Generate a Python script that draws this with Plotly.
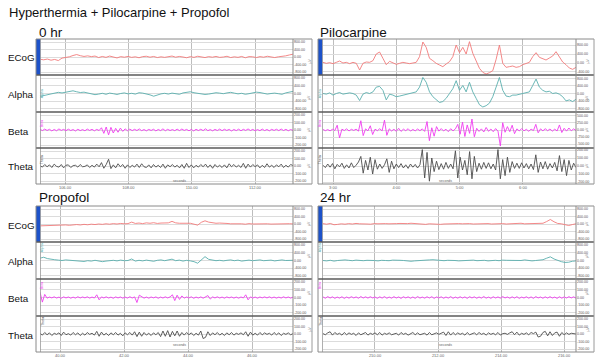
import numpy as np
import plotly.graph_objects as go

W, H = 600, 364

# ---------------- data (µV) ----------------
row_names = ["ECoG", "Alpha", "Beta", "Theta"]

hr0_ticks = [106, 108, 110, 112]
hr0_ticklabels = ["106.00", "108.00", "110.00", "112.00"]
pilo_ticks = [3, 4, 5, 6]
pilo_ticklabels = ["3:00", "4:00", "5:00", "6:00"]
prop_ticks = [40, 42, 44, 46]
prop_ticklabels = ["40.00", "42.00", "44.00", "46.00"]
h24_ticks = [210, 212, 214, 216]
h24_ticklabels = ["210.00", "212.00", "214.00", "216.00"]

hr0_ecog = [-120, -150, -110, -170, -130, -190, -60, -30, 10, 80, 130, 70, 30, 60, 20, 50, -30, 30, -20, 50,
            0, -50, 20, -10, 30, -20, 10, -40, 20, 40, -10, 30, -30, 10, -20, 20, 50, -10, 30, 0,
            -40, 20, -20, 40, 10, -30, 20, -10, 30, -20, 0, 40, -30, 10, -20, 30, -40, 20, 10, -30,
            20, -10, 40, 0, -30, 10, 30, 60, 110, 150]
hr0_alpha = [-150, -100, -60, 0, 40, 60, 30, 80, 100, 140, 90, 50, 70, 20, -20, -60, -30, 10, -40, 20,
             -10, -50, 0, 30, -20, 10, -30, 40, 20, -10, -70, -140, -60, -20, 10, -30, 20, 0, -40, 30,
             60, 90, 40, 10, -20, -50, -30, 10, 40, 20, -10, 30, 60, 20, -20, 10, -40, -10, 30, 70,
             50, 10, -30, 0, 20, -10, -40, 30, 80, 110]
hr0_beta = [10, -8, 12, -6, 9, -12, 7, -10, 14, -5, 8, -9, 11, -7, 6, -13, 10, -8, 5, -10, 12, -6, 9, -11, 8, -7,
            30, -45, 40, -65, 35, -40, 22, -30, 25, -18, 15,
            -10, 12, -8, 9, -7, 14, -9, 6, -11, 8, -6, 10, -12, 7, -8, 15, -10, 9, -7, 6,
            -9, 11, -8, 13, -6, 8, -10, 7, -12, 9, -7, 10, -8, 16, -9, 6, -11, 8, -7, 12,
            -9, 10, -6, 8, -13, 7, -8, 11, -10, 9, -6, 14, -7, 8, -10, 6, -9, 12, -8, 7,
            -11, 9, -6, 10, -8, 13, -7, 9, -10, 6, -5]
hr0_theta = [5, -15, 20, -10, 15, -20, 25, -5, -15, 20, -25, 10, 15, -20, 5, 10, -15, 20, -10, -5, 15, -20, 10, -15, 25, -10,
             45, -30, 20, 90, -35,
             15, -25, 30, -10, 20, -30, 15, -20, 10, -15, 25, -20, 30, -10, -20, 15, -25, 20, -15, 10,
             -20, 25, -30, 15, -10, 20, -15, 10, -25, 20,
             -30, 35, -20, 15, -25, 10, -15, 20, -10, 25, -20, 15, -30, 20, -15, 10, -20, 15, -25, 30,
             -10, 20, -15, 10, -20, 35, -30, 25, -15, 20, -10, 15, -25, 10, -20, 30, -15, 10, -20, 15,
             -10, 25, -20, 10, -15, 20, 5]

pilo_ecog = [30, -15, 15, -30, 30, 90, 0, 30, -30, 30, -15, -315, -15, 45, 30, 105, 405, 495, 210, -75,
             75, 15, -60, -15, 30, 0, -30, 0, 30, 285, 945, 705, 210, 105, -15, -90, -165, -45, 60, 285,
             810, 465, 705, 405, 960, 435, 105, -240, -420, -495, -435, -345, 165, 810, -15, -195, -165, -135, -195, -165,
             -75, -15, 30, 285, 465, 255, 210, 135, 225, 315, 510, 285, 45, -75, -225, -285, -195]
pilo_alpha = [0, -34, 34, -85, 0, 51, -34, 0, 34, 0, -85, -374, -34, 51, 0, 85, 340, 374, 170, -340,
              -34, -85, -170, -136, -85, -51, 0, 34, 85, 340, 850, 595, 85, -170, -340, -476, -425, -255, 0, 255,
              680, 170, 425, 85, 595, 85, -255, -595, -714, -646, -510, -170, 340, 850, 170, -136, -170, -85, -85, -34,
              0, 34, 85, 425, 765, 340, 170, 85, 119, 0, 34, -34, -170, -391, -340, -425, -306]
pilo_beta = [20, -25, 15, -30, 25, -20, 170, -280, 30, -20, 40, -35, 25, -15, 30, -40, 330, -200, 40, -30,
             150, -160, 30, -25, 45, -30, 350, -190, 40, -35, 25, -45, 60, -50, 30, -25, 45, -40, 20, -30,
             35, -25, 40, -50, 300, -380, 80, -220, 120, -40, 50, -35, 30, -60, 45, -30, 40, 200, -150, 280,
             -230, 180, -120, 390, -240, 60, -50, 40, -70, 90, -45, 35, -60, 50, -40, -570, 260, -80, 120, -60,
             170, -130, 40, -35, 50, -30, 25, -45, 30, -20, 200, -100, 40, -30, 45, -25, 35, -40, 30, -35,
             180, -90, 60, -40, 70, -30, 40, -20]
pilo_theta = [10, -20, 25, -15, 30, -35, 20, -10, 35, -30, 15, -25, 40, -20, 10,
              50, 120, -90, 70, -50, 110, -100, 80, -40, 25, -30, 15, 90, -80, 60, -35,
              25, -20, 30, -25, 15, -30, 25, -15, 20, -25, 15,
              205, -150, 170, -190, 100, -70, 60, -45, 30, -40, 45, -30, 25, -35,
              190, -150, 110, -50, 70, -110, 180, -160, 120, -70,
              35, -40, 45, -30, 40, -35, 25, -50, 205, -160, 80, -120, 110, -80, 55,
              -30, 35, -30, 40, -25, 30, -35, 25, -45, 140, -80,
              50, -35, 55, -40, 30, -25, 45, -60, 130, -70, 80, -120, 70, -50, 35, -20]

prop_ecog = [-100, -90, -110, -80, -70, -90, -60, -50, -70, -40,
             -30, -50, -20, -40, -10, -30, 0, -20, 10, -10,
             20, 0, 30, 10, 20, 100, 30, 50, 20, 60,
             40, 70, 30, 50, 40, 60, 140, 60, 40, 50,
             60, 40, -10, -60, 90, 170, 100, 50, 40, 50,
             20, 30, 10, 20, 0, 10, -10, 20, 0, 10,
             -10, 0, 10, -5, 5, 0, 10, 0, 15, 5]
prop_alpha = [120, 170, 100, 60, 40, 20, 0, 30, 10, -10,
              -30, -20, -50, -10, -30, 10, -20, -60, -30, 0,
              10, -20, 20, -10, 0, 80, -30, 10, -20, 20,
              0, -40, 10, 30, -10, 20, 70, -10, 20, -30,
              10, -20, -60, -140, 40, 200, 60, 20, -10, 10,
              -20, 10, 30, -10, 20, -30, 0, 20, -10, 10,
              30, -10, 0, 20, -20, 10, 30, 0, -10, 10]
prop_beta = [70, -60, 40,
             -8, 6, -5, 9, -7, 5, -10, 8, -6, 7, -9, 5, -8, 10, -6, 7, -5, 9, -8, 6, -7,
             35, -30,
             8, -6, 9, -7, 5, -10, 8, -6, 7, -9, 6, -8, 10, -7, 8,
             -65, 30,
             10, -8, 6, -9, 7, -5, 8, -10, 6, -7, 9, -6, 8,
             35, -40, 30, -25, 20,
             -8, 7, -6, 9, -10, 6, -7, 8, -9, 7,
             25, -20,
             8, -6, 9, -7, 6, -9, 8, -5, 7, -8, 6, -9, 7, -6,
             35, -30,
             8, -7, 6, -9, 7, -5, 8, -6, 9, -7, 6, -8, 5, -7, 9, -6, 7, -8, 5]
prop_theta = [10, -15, 20, -10, 15, -20, 10, -5, 15, -20, 25, -10, 5, -15, 20, -10, 15, -20, 10, -15, 20, -5, 10, -15,
              35, -30, 25, -15,
              10, -20, 15, -10, 20, -15, 10, -25, 15, -10, 20, -15,
              30, -35, 25, -30, 20,
              -15, 10, -20, 15, -10, 20,
              -35, 40, -30, 45, -40, 35, -25, 40, -30, 20,
              -15, 20, -10, 15, -20, 10, -15,
              40, -60, -45, 30, -20,
              15, -10, 20, -15, 10, -20, 15, -10, 20, -15, 10, -5, 15, -10,
              30, -30, 25, -15,
              10, -15, 20, -10, 15, -5, 10, -15, 20, -10, 15, -20, 10, -5, 15, -10, 5]

h24_ecog = [20, -10, 30, -40, -20, 10, -10, 20, 0, 30,
            10, 20, 0, -10, 20, 10, 30, 20, 10, 0,
            20, 30, 10, 20, 40, 20, 10, 0, -20, 10,
            -10, -30, -20, 0, 10, 30, 50, 20, 10, 30,
            20, 0, 10, 30, 10, 20, 0, 10, -10, 20,
            0, 10, 30, 20, 40, 10, 20, 0, 30, 20,
            40, 130, 240, 120, 30, 10, -40, -80, -30, 10]
h24_alpha = [0, -20, 10, -30, 0, 20, 30, 10, -10, 20,
             0, -10, 10, 20, 0, -20, 10, 0, -10, 20,
             30, 10, 0, -20, -40, -20, 0, 10, 20, 30,
             40, 20, 0, -10, 10, 20, 0, -20, -10, 10,
             0, 20, -10, 0, 10, -20, 0, 10, -10, 20,
             10, 0, 20, -10, 0, 30, 10, -20, 0, 20,
             40, 120, 190, 80, 0, -60, -100, -90, -40, -20]
h24_beta = [8, -10, 12, -7, 9, -11, 6, -8, 10, -12,
            7, -9, 11, -6, 8, -10, 13, -7, 9, -8,
            10, -6, 7, -11, 9, -8, 12, -10, 6, -9,
            11, -7, 8, -12, 10, -6, 9, -10, 7, -11,
            13, -8, 6, -9, 10, -7, 11, -12, 8, -6,
            9, -10, 7, -8, 12, -11, 6, -9, 10, -7,
            8, -12, 11, -6, 9, -10, 7, -8, 13, -9,
            6, -11, 10, -7, 8, -9, 12, -6, 7, -10,
            9, -8, 11, -12, 6, -7, 10, -9, 8, -11,
            12, -6, 7, -10, 9, -8, 11, -7, 6, -12,
            10, -9, 8, -7, 11, -6, 9, -10]
h24_theta = [5, -10, 15, 30, -15, 20, -5, 10, -15, 20,
             -10, 15, -5, 10, -20, 15, -10, 5, 20, -15,
             10, -5, 15, -10, 20, -15, 10, -5, 15, -10,
             5, 10, -15, 20, -5, 10, -15, 5, 20, -10,
             15, -10, 5, 10, -15, 20, -10, 5, 15, -5,
             10, 25, -20, 30, -15, 20, -10, 15, -5, 10,
             -15, 20, -10, 5, 15, -10, 20, -5, 10, -15,
             15, -5, 10, -10, 20, -15, 5, 10, -5, 15,
             30, -10, 25, -15, 10, -5, 15, -10, 20, 5,
             25, -40, -30, 20, 35, -25, 30, -20, 15, 25,
             -30, 20, -10, 15, -5, 10, 5, 0]

big_ticks = [800, 400, 0, -400, -800]
big_labels = ["800.00", "400.00", "0.00", "-400.00", "-800.00"]
small_ticks = [200, 100, 0, -100, -200]
small_labels = ["200.00", "100.00", "0.00", "-100.00", "-200.00"]
pilo_beta_ticks = [500, 250, 0, -250, -500]
pilo_beta_labels = ["500.00", "250.00", "0.00", "-250.00", "-500.00"]

# ---------------- layout geometry ----------------
def fx(px):
    return px / W

def fy(py):
    return 1 - py / H

colors = {"ECoG": "#f27b7b", "Alpha": "#5aafae", "Beta": "#ef3cef", "Theta": "#4d4d4d"}
FONT = "Liberation Sans, Arial, sans-serif"

panels = [
    dict(title="0 hr", tx=37, ty=32, xl=40, xr=293, strip=36, boxr=312, rows=[39, 75, 112, 148, 184],
         trange=(105.21, 113.2), tv=hr0_ticks, tt=hr0_ticklabels, label_rows=True,
         data=[hr0_ecog, hr0_alpha, hr0_beta, hr0_theta],
         yr=[(-960, 960), (-960, 960), (-240, 240), (-240, 240)],
         yt=[(big_ticks, big_labels), (big_ticks, big_labels), (small_ticks, small_labels), (small_ticks, small_labels)]),
    dict(title="Pilocarpine", tx=318, ty=32, xl=323, xr=576, strip=318, boxr=594, rows=[39, 75, 112, 148, 184],
         trange=(2.842, 6.837), tv=pilo_ticks, tt=pilo_ticklabels, label_rows=False,
         data=[pilo_ecog, pilo_alpha, pilo_beta, pilo_theta],
         yr=[(-540, 1080), (-980, 980), (-640, 640), (-225, 225)],
         yt=[(big_ticks[:4], big_labels[:4]), (big_ticks, big_labels), (pilo_beta_ticks, pilo_beta_labels), (small_ticks, small_labels)]),
    dict(title="Propofol", tx=37, ty=198, xl=40, xr=293, strip=36, boxr=312, rows=[206, 242, 279, 316, 352],
         trange=(39.375, 47.28), tv=prop_ticks, tt=prop_ticklabels, label_rows=True,
         data=[prop_ecog, prop_alpha, prop_beta, prop_theta],
         yr=[(-960, 960), (-960, 960), (-240, 240), (-240, 240)],
         yt=[(big_ticks, big_labels), (big_ticks, big_labels), (small_ticks, small_labels), (small_ticks, small_labels)]),
    dict(title="24 hr", tx=318, ty=198, xl=323, xr=576, strip=318, boxr=594, rows=[206, 242, 279, 316, 352],
         trange=(208.35, 216.38), tv=h24_ticks, tt=h24_ticklabels, label_rows=False,
         data=[h24_ecog, h24_alpha, h24_beta, h24_theta],
         yr=[(-960, 960), (-960, 960), (-240, 240), (-240, 240)],
         yt=[(big_ticks, big_labels), (big_ticks, big_labels), (small_ticks, small_labels), (small_ticks, small_labels)]),
]

fig = go.Figure()
layout = dict(width=W, height=H, margin=dict(l=0, r=0, t=0, b=0), autosize=False,
              paper_bgcolor="white", plot_bgcolor="white", showlegend=False,
              font=dict(family=FONT, color="black"))
shapes = []
annotations = [dict(text="Hyperthermia + Pilocarpine + Propofol", x=fx(7), y=fy(13), xref="paper", yref="paper",
                    xanchor="left", yanchor="middle", showarrow=False, font=dict(size=13, color="#111"))]

k = 0
for p in panels:
    annotations.append(dict(text=p["title"], x=fx(p["tx"]), y=fy(p["ty"]), xref="paper", yref="paper",
                            xanchor="left", yanchor="middle", showarrow=False, font=dict(size=13.5, color="#111")))
    rows = p["rows"]
    for r, name in enumerate(row_names):
        k += 1
        sfx = "" if k == 1 else str(k)
        top, bot = rows[r], rows[r + 1]
        vals = p["data"][r]
        t = np.linspace(p["trange"][0], p["trange"][1], len(vals))
        fig.add_trace(go.Scatter(x=t, y=vals, mode="lines", xaxis="x" + sfx, yaxis="y" + sfx,
                                 line=dict(color=colors[name], width=0.9), hoverinfo="skip"))
        is_bottom = (r == 3)
        layout["xaxis" + sfx] = dict(domain=[fx(p["xl"]), fx(p["xr"])], range=list(p["trange"]),
                                     anchor="y" + sfx, tickvals=p["tv"], ticktext=p["tt"],
                                     showticklabels=is_bottom, ticks="", showgrid=True, gridcolor="#bdbdbd",
                                     gridwidth=1, zeroline=False, showline=False,
                                     tickfont=dict(size=4, color="#666"), fixedrange=True)
        tv, tt = p["yt"][r]
        layout["yaxis" + sfx] = dict(domain=[fy(bot), fy(top)], range=list(p["yr"][r]), anchor="x" + sfx,
                                     side="right", tickvals=tv, ticktext=tt, ticks="", showgrid=True,
                                     gridcolor="#dcdcdc", gridwidth=1, zeroline=False, showline=False,
                                     tickfont=dict(size=3.6, color="#555"), fixedrange=True)
        # left strip
        if r == 0:
            shapes.append(dict(type="rect", xref="paper", yref="paper", x0=fx(p["strip"]), x1=fx(p["strip"] + 4.5),
                               y0=fy(bot), y1=fy(top), fillcolor="#1d52c9", line=dict(width=0), layer="above"))
        else:
            annotations.append(dict(text=name, x=fx(p["strip"] + 2.3), y=fy((top + bot) / 2 - 6), xref="paper",
                                    yref="paper", textangle=-90, showarrow=False,
                                    font=dict(size=3.5, color=colors[name])))
        shapes.append(dict(type="line", xref="paper", yref="paper", x0=fx(p["strip"] + 4.5), x1=fx(p["strip"] + 4.5),
                           y0=fy(bot), y1=fy(top), line=dict(color="#9a9a9a", width=0.8)))
        # unit label in right box
        annotations.append(dict(text="µV", x=fx(p["boxr"] - 3), y=fy((top + bot) / 2), xref="paper",
                                yref="paper", textangle=-90, showarrow=False,
                                font=dict(size=3.5, color="#777")))
        if is_bottom:
            annotations.append(dict(text="seconds", x=fx((p["xl"] + p["xr"]) / 2 + 4), y=fy(bot - 3),
                                    xref="paper", yref="paper", showarrow=False,
                                    font=dict(size=3.5, color="#666")))
        if p["label_rows"]:
            annotations.append(dict(text=name, x=fx(6), y=fy((top + bot) / 2 + 1), xref="paper", yref="paper",
                                    xanchor="left", yanchor="middle", showarrow=False,
                                    font=dict(size=9.8, color="#111")))
    # row separators
    for i, yy in enumerate(rows):
        shapes.append(dict(type="line", xref="paper", yref="paper", x0=fx(p["strip"]), x1=fx(p["boxr"]),
                           y0=fy(yy), y1=fy(yy),
                           line=dict(color="#5a5a5a" if 0 < i < 4 else "#8a8a8a", width=1.4 if 0 < i < 4 else 1)))
    # verticals
    for xx, c, w in [(p["strip"], "#8a8a8a", 1), (p["xr"], "#8a8a8a", 1), (p["boxr"], "#9a9a9a", 1)]:
        shapes.append(dict(type="line", xref="paper", yref="paper", x0=fx(xx), x1=fx(xx),
                           y0=fy(rows[-1]), y1=fy(rows[0]), line=dict(color=c, width=w)))

layout["shapes"] = shapes
layout["annotations"] = annotations
fig.update_layout(**layout)
fig.write_html("out.html", config={"displayModeBar": False},
               post_script="document.body.style.margin='0';document.body.style.overflow='hidden';")
